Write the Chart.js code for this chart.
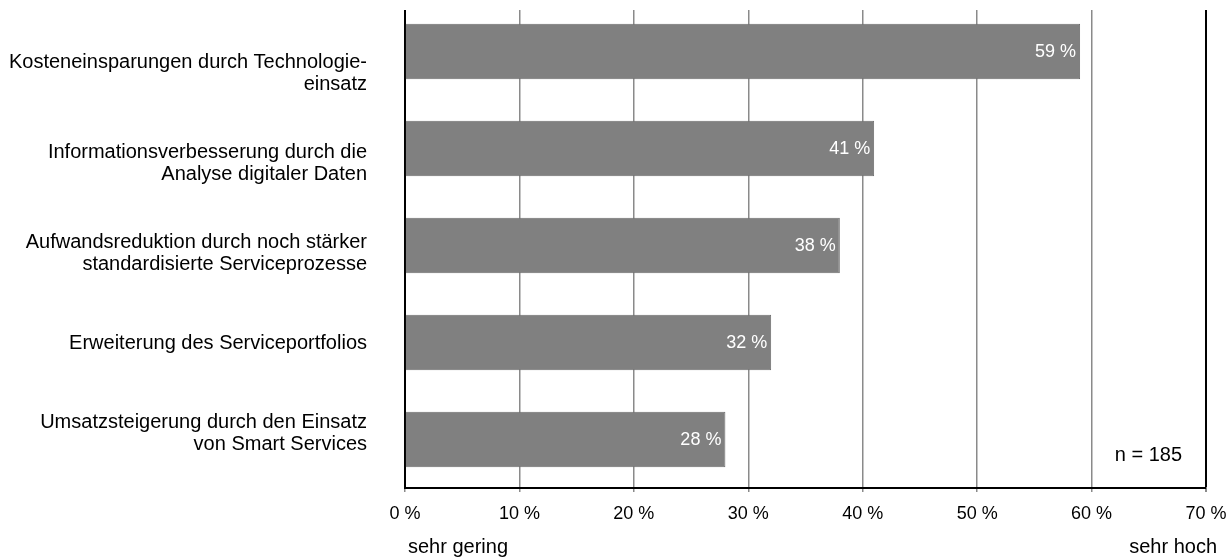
<!DOCTYPE html>
<html>
<head>
<meta charset="utf-8">
<script src="https://cdn.jsdelivr.net/npm/chart.js@4"></script>
<style>
  html, body { margin: 0; padding: 0; background: #fff; }
  #wrap { width: 1232px; height: 557px; }
</style>
</head>
<body>
<div id="wrap"><canvas id="chart"></canvas></div>
<script>
const categories = [
  ["Kosteneinsparungen durch Technologie-", "einsatz"],
  ["Informationsverbesserung durch die", "Analyse digitaler Daten"],
  ["Aufwandsreduktion durch noch stärker", "standardisierte Serviceprozesse"],
  ["Erweiterung des Serviceportfolios"],
  ["Umsatzsteigerung durch den Einsatz", "von Smart Services"]
];
const values = [59, 41, 38, 32, 28];
const xMin = 0;
const xMax = 70;
const xStep = 10;
const lowLabel = "sehr gering";
const highLabel = "sehr hoch";
const sampleNote = "n = 185";

const FONT = "'Liberation Sans', Arial, sans-serif";
Chart.defaults.font.family = FONT;
Chart.defaults.font.size = 18;
Chart.defaults.color = "#000";

const labelsPlugin = {
  id: "extraText",
  afterDatasetsDraw(chart) {
    const ctx = chart.ctx;
    const meta = chart.getDatasetMeta(0);
    ctx.save();
    ctx.font = "18px " + FONT;
    ctx.fillStyle = "#fff";
    ctx.textAlign = "right";
    ctx.textBaseline = "middle";
    meta.data.forEach((bar, i) => {
      ctx.fillText(values[i] + " %", bar.x - 4, bar.y + 1);
    });
    ctx.restore();
  },
  afterDraw(chart) {
    const ctx = chart.ctx;
    const area = chart.chartArea;
    ctx.save();
    // axes and grid start a little below the first category band
    ctx.fillStyle = "#fff";
    ctx.fillRect(0, 0, chart.width, 10);
    ctx.font = "20px " + FONT;
    ctx.fillStyle = "#000";
    ctx.textBaseline = "middle";
    ctx.textAlign = "left";
    ctx.fillText(lowLabel, area.left + 3, 547);
    ctx.textAlign = "right";
    ctx.fillText(highLabel, chart.width - 15, 547);
    ctx.fillText(sampleNote, area.right - 24, 455);
    ctx.restore();
  }
};

new Chart(document.getElementById("chart"), {
  type: "bar",
  data: {
    labels: categories.map(c => c.join(" ")),
    datasets: [{
      data: values,
      backgroundColor: "#808080",
      borderColor: "#6e6e6e",
      borderWidth: 1,
      categoryPercentage: 1,
      barPercentage: 0.57,
      yAxisID: "y"
    }]
  },
  options: {
    indexAxis: "y",
    responsive: true,
    maintainAspectRatio: false,
    animation: false,
    layout: { padding: { top: 3, right: 26, left: 0, bottom: 0 } },
    plugins: {
      legend: { display: false },
      tooltip: { enabled: false }
    },
    scales: {
      x: {
        min: xMin,
        max: xMax,
        ticks: {
          stepSize: xStep,
          padding: 11,
          color: "#000",
          callback: v => v + " %"
        },
        grid: {
          color: c => (c.tick && (c.tick.value === xMax || c.tick.value === xMin)) ? "#000" : "#8a8a8a",
          lineWidth: c => (c.tick && c.tick.value === xMax) ? 2 : 1.5,
          tickLength: 4,
          tickColor: "#8a8a8a"
        },
        border: { color: "#000", width: 2 },
        afterFit: s => { s.height = 69; s.paddingLeft = 0; s.paddingRight = 0; }
      },
      y: {
        position: "left",
        ticks: { display: false },
        grid: { display: false, drawTicks: false },
        border: { color: "#000", width: 2 },
        afterFit: s => { s.width = 0; s.paddingTop = 0; s.paddingBottom = 0; }
      },
      yl: {
        type: "linear",
        position: "left",
        reverse: true,
        offset: false,
        min: -0.78,
        max: 4.6,
        afterBuildTicks: s => { s.ticks = categories.map((c, i) => ({ value: i })); },
        ticks: {
          autoSkip: false,
          padding: 38,
          color: "#000",
          font: { size: 20, lineHeight: 1.1 },
          callback: v => categories[v]
        },
        grid: { display: false, drawTicks: false },
        border: { display: false },
        afterFit: s => { s.width = 405; s.paddingTop = 0; s.paddingBottom = 0; }
      }
    }
  },
  plugins: [labelsPlugin]
});
</script>
</body>
</html>
